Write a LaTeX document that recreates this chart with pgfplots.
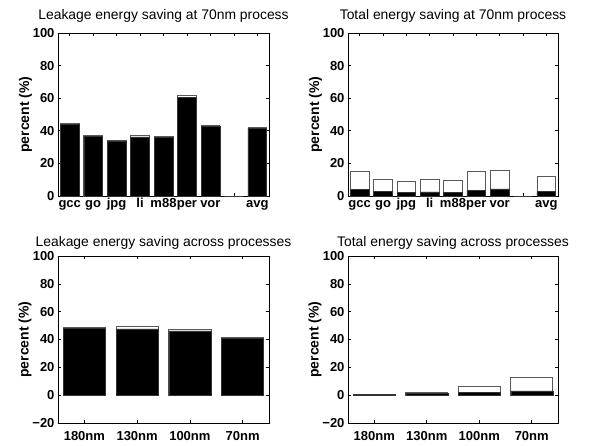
\documentclass[border=0pt]{standalone}
\usepackage{fontspec}
\setmainfont{Liberation Sans}
\usepackage{pgfplots}
\pgfplotsset{compat=1.18}
\pgfplotsset{
  mat/.style={
    scale only axis, anchor=south west,
    tick align=inside, major tick length=3pt,
    xtick pos=both, ytick pos=both,
    /pgf/number format/assume math mode=true,
    ticklabel style={font=\bfseries\fontsize{13}{13}\selectfont},
    ylabel={percent (\%)},
    ylabel style={font=\bfseries\fontsize{14}{14}\selectfont, yshift=-6pt},
    title style={font=\fontsize{13.9}{13.9}\selectfont, anchor=base},
    axis line style={black, line width=0.8pt},
    tick style={black, line width=0.6pt},
    enlargelimits=false, clip=false,
  },
  wbar/.style={ybar, bar width=0.8, bar shift=0pt, fill=white, draw=black!65, line width=0.7pt},
  bbar/.style={ybar, bar width=0.8, bar shift=0pt, fill=black, draw=black!80, line width=0.5pt},
  topax/.style={mat, width=211pt, height=163pt,
    xmin=0.5, xmax=9.5, ymin=0, ymax=100, ytick={0,20,...,100},
    xtick={1,...,9}, xticklabels={gcc,go,jpg,li,m88,per,vor,{},avg},
    xticklabel style={anchor=base, yshift=-12pt},
    title style={at={(0.5,1)}, yshift=7pt}},
  botax/.style={mat, width=211pt, height=167pt,
    xmin=0.5, xmax=4.5, ymin=-20, ymax=100, ytick={-20,0,...,100},
    yticklabels={\textminus 20,0,20,40,60,80,100},
    xtick={1,...,4}, xticklabels={180nm,130nm,100nm,70nm},
    xticklabel style={anchor=base, yshift=-17pt},
    title style={at={(0.5,1)}, yshift=4pt}},
}
\begin{document}
\begin{tikzpicture}[x=1pt,y=1pt]
\useasboundingbox (0,0) rectangle (592,445);
% top left
\begin{axis}[topax, at={(58pt,249pt)}, title={Leakage energy saving at 70nm process}]
\addplot[wbar] coordinates {(1,44.5)(2,37.3)(3,34.4)(4,37.0)(5,36.7)(6,61.5)(7,43.2)(8,0)(9,42.2)};
\addplot[bbar] coordinates {(1,44.0)(2,36.7)(3,33.8)(4,36.3)(5,36.0)(6,60.3)(7,42.8)(9,41.6)};
\end{axis}
% top right
\begin{axis}[topax, at={(348pt,249pt)}, width=210pt, title={Total energy saving at 70nm process}]
\addplot[wbar] coordinates {(1,15.0)(2,10.2)(3,9.2)(4,10.2)(5,9.6)(6,15.0)(7,16.0)(8,0)(9,12.3)};
\addplot[bbar] coordinates {(1,4.1)(2,2.7)(3,2.0)(4,2.5)(5,2.3)(6,3.5)(7,4.3)(9,2.9)};
\end{axis}
% bottom left
\begin{axis}[botax, at={(58pt,22pt)}, title={Leakage energy saving across processes}]
\addplot[wbar] coordinates {(1,48.6)(2,49.3)(3,47.1)(4,41.4)};
\addplot[bbar] coordinates {(1,48.1)(2,47.6)(3,46.2)(4,41.0)};
\end{axis}
% bottom right
\begin{axis}[botax, at={(348pt,22pt)}, width=210pt, title={Total energy saving across processes}]
\addplot[wbar] coordinates {(1,0.8)(2,2.2)(3,6.2)(4,12.6)};
\addplot[bbar] coordinates {(1,0.4)(2,1.2)(3,2.0)(4,3.1)};
\end{axis}
\end{tikzpicture}
\end{document}
